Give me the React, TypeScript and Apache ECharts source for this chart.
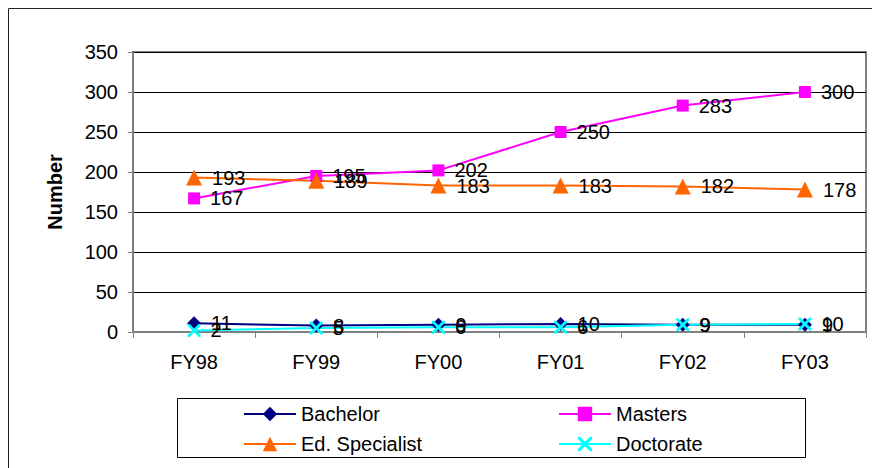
import React, { useEffect, useRef } from "react";
import * as echarts from "echarts";

const categories = ["FY98", "FY99", "FY00", "FY01", "FY02", "FY03"];
const bachelor = [11, 8, 9, 10, 9, 9];
const masters = [167, 195, 202, 250, 283, 300];
const edSpecialist = [193, 189, 183, 183, 182, 178];
const doctorate = [2, 5, 6, 6, 9, 10];
const yTicks = { min: 0, max: 350, interval: 50 };

const FONT = "Arial, 'Liberation Sans', sans-serif";
const FS = 20;
const X_PATH =
  "path://M0,0 L3,0 L10,7 L17,0 L20,0 L20,3 L13,10 L20,17 L20,20 L17,20 L10,13 L3,20 L0,20 L0,17 L7,10 L0,3 Z";

export default function App() {
  const ref = useRef<HTMLDivElement>(null);
  useEffect(() => {
    if (!ref.current) return;
    const chart = echarts.init(ref.current, null, { renderer: "svg" });
    const label = {
      show: true,
      position: "right" as const,
      distance: 10,
      color: "#000",
      fontSize: FS,
      fontFamily: FONT,
    };
    const mkSeries = (name: string, data: number[], color: string, symbol: string, size: number) => ({
      name,
      type: "line",
      data,
      symbol,
      symbolSize: size,
      showAllSymbol: true,
      lineStyle: { color, width: 2 },
      itemStyle: { color },
      label,
    });
    const legendBase = (name: string, left: number, top: number) => ({
      data: [name],
      left,
      top,
      itemWidth: 52,
      itemHeight: 18,
      itemGap: 6,
      padding: 0,
      textStyle: { color: "#000", fontSize: FS, fontFamily: FONT },
    });
    chart.setOption({
      animation: false,
      backgroundColor: "#fff",
      textStyle: { fontFamily: FONT },
      grid: {
        left: 133,
        top: 52,
        right: 6,
        bottom: 136,
        show: true,
        borderColor: "#808080",
        borderWidth: 2,
      },
      graphic: [
        {
          type: "rect",
          shape: { x: 8.5, y: 8.5, width: 900, height: 500 },
          style: { fill: "none", stroke: "#222", lineWidth: 1 },
          silent: true,
        },
        {
          type: "rect",
          shape: { x: 177.5, y: 398.5, width: 628, height: 59 },
          style: { fill: "none", stroke: "#000", lineWidth: 1 },
          silent: true,
        },
      ],
      legend: [
        legendBase("Bachelor", 243, 404),
        legendBase("Masters", 558, 404),
        legendBase("Ed. Specialist", 243, 434),
        legendBase("Doctorate", 558, 434),
      ],
      xAxis: {
        type: "category",
        data: categories,
        boundaryGap: true,
        axisLine: { lineStyle: { color: "#808080", width: 2 } },
        axisTick: { show: true, length: 6, lineStyle: { color: "#808080", width: 1 } },
        axisLabel: { color: "#000", fontSize: FS, fontFamily: FONT, margin: 20 },
        splitLine: { show: false },
      },
      yAxis: {
        type: "value",
        min: yTicks.min,
        max: yTicks.max,
        interval: yTicks.interval,
        name: "Number",
        nameLocation: "middle",
        nameGap: 68,
        nameTextStyle: { color: "#000", fontSize: FS, fontWeight: "bold", fontFamily: FONT },
        axisLine: { show: true, lineStyle: { color: "#808080", width: 2 } },
        axisTick: { show: true, length: 5, lineStyle: { color: "#808080", width: 1 } },
        axisLabel: { color: "#000", fontSize: FS, fontFamily: FONT, margin: 15 },
        splitLine: { show: true, lineStyle: { color: "#000", width: 1 } },
      },
      series: [
        mkSeries("Bachelor", bachelor, "#000080", "diamond", 14),
        mkSeries("Masters", masters, "#FF00FF", "rect", 12),
        mkSeries("Ed. Specialist", edSpecialist, "#FF6600", "triangle", 16),
        mkSeries("Doctorate", doctorate, "#00FFFF", X_PATH, 13),
      ],
    });
    return () => chart.dispose();
  }, []);
  return (
    <div
      ref={ref}
      style={{ position: "fixed", left: 0, top: 0, width: 872, height: 468 }}
    />
  );
}
